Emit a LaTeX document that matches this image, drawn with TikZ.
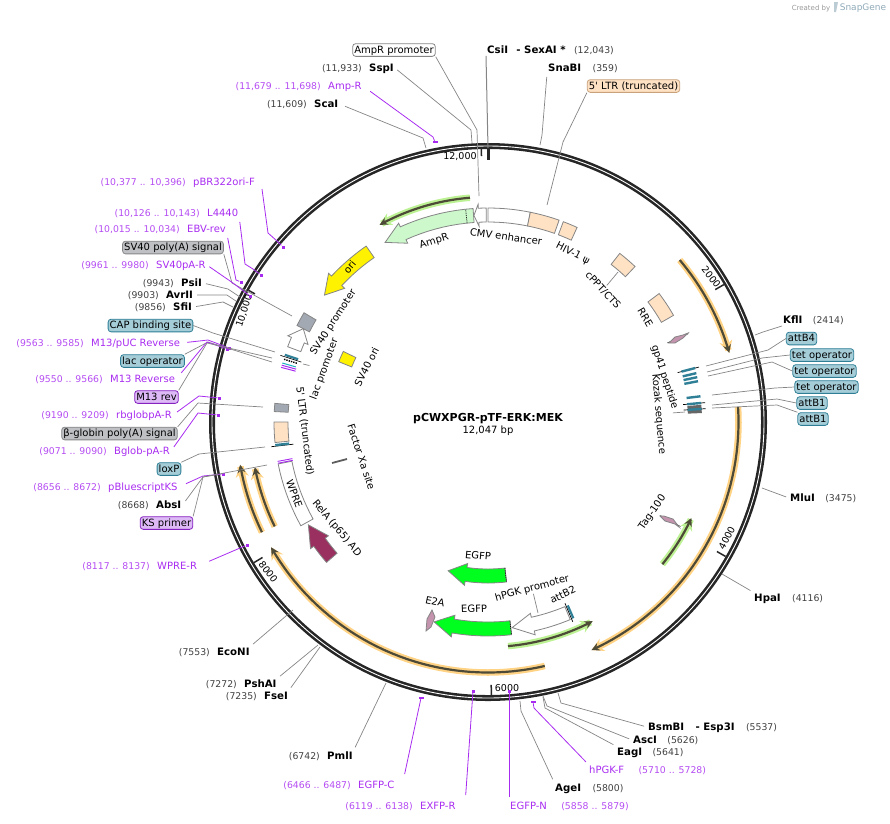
\documentclass[tikz,border=0pt]{standalone}
\usepackage{fontspec}
\setmainfont{DejaVu Sans}
\usetikzlibrary{positioning, arrows.meta}

\definecolor{leadgrey}{HTML}{858585}
\definecolor{primerpurple}{HTML}{A82CF0}
\definecolor{posgrey}{HTML}{404040}
\definecolor{tealfill}{HTML}{A5CDD8}
\definecolor{tealedge}{HTML}{2E7F96}
\definecolor{tealstrip}{HTML}{2F7F96}
\definecolor{greyfill}{HTML}{BEC0C3}
\definecolor{greyfeat}{HTML}{A3A9B3}
\definecolor{lilacfill}{HTML}{DDB9F6}
\definecolor{peachfill}{HTML}{FFE2C4}
\definecolor{peachedge}{HTML}{C9A27C}
\definecolor{ampgreen}{HTML}{CCF8CC}
\definecolor{egfpgreen}{HTML}{00FF1E}
\definecolor{relacrimson}{HTML}{99305F}
\definecolor{tagpink}{HTML}{C493AE}
\definecolor{orfdark}{HTML}{4D4A38}
\definecolor{orforange}{HTML}{FFD284}
\definecolor{orfgreen}{HTML}{BDF294}
\definecolor{stampblue}{HTML}{8FAAB8}

% arc shaped box: [style]{from}{to}{inner radius}{outer radius}
\newcommand{\ringbox}[5][]{%
    \draw [ring, #1] plot [domain=#2:#3, samples=10] ({\x-90}:#5)
        -- plot [domain=#3:#2, samples=10] ({\x-90}:#4) -- cycle;}
% arc shaped arrow: [style]{tail}{neck}{tip}{inner radius}{outer radius}
\newcommand{\ringarrow}[6][]{%
    \draw [ring, #1] plot [domain=#2:#3, samples=10] ({\x-90}:#6)
        -- ({#3-90}:{#6+4}) -- ({#4-90}:{(#5+#6)/2}) -- ({#3-90}:{#5-4})
        -- plot [domain=#3:#2, samples=10] ({\x-90}:#5) -- cycle;}
% radial bar: [style]{angle}{inner radius}{outer radius}
\newcommand{\ringbar}[4][]{%
    \draw [ring, #1] ({#2-90}:#3) -- ({#2-90}:#4);}
% reading frame: {highlight colour}{from}{to}{radius}
\newcommand{\ringframe}[4]{%
    \draw [ring, #1, line width=6.5pt, -{Stealth[length=12pt, width=13pt]}]
        plot [domain=#2:#3, samples=40] ({\x-90}:#4);
    \draw [ring, orfdark, line width=2.2pt, -{Stealth[length=8pt, width=8pt]}]
        plot [domain=#2:#3, samples=40] ({\x-90}:#4);}

\begin{document}
\begin{tikzpicture}
    [
        x=1pt, y=-1pt,
        ring/.style={shift={(488,422)}},
        every node/.style={font=\fontsize{10}{11}\selectfont, inner sep=1pt,
            text height=8pt, text depth=1.5pt},
        enzyme/.style={font=\fontsize{10.2}{11}\selectfont\bfseries, anchor=west},
        enzymepos/.style={font=\fontsize{9.3}{11}\selectfont, text=posgrey},
        primer/.style={text=primerpurple, anchor=west},
        primerpos/.style={font=\fontsize{9.3}{11}\selectfont, text=primerpurple!85},
        tagbox/.style={draw, rounded corners=3pt, inner sep=1.6pt, line width=0.8pt},
        tealbox/.style={tagbox, fill=tealfill, draw=tealedge},
        greybox/.style={tagbox, fill=greyfill, draw=greyfill!70!black},
        lilacbox/.style={tagbox, fill=lilacfill, draw=primerpurple!80!black},
        peachbox/.style={tagbox, fill=peachfill, draw=peachedge},
        whitebox/.style={tagbox, draw=leadgrey},
        leader/.style={draw=leadgrey, line width=0.7pt},
        siteleader/.style={leader, shorten <=3pt},
        primerleader/.style={draw=primerpurple, line width=0.8pt, shorten <=3pt},
        primermark/.style={fill=primerpurple, inner sep=0pt, text height=0pt, text depth=0pt,
            minimum width=3pt, minimum height=3pt},
        primerbar/.style={primermark, minimum width=5pt, minimum height=2pt},
        feature/.style={draw=leadgrey, line width=0.8pt},
        tick/.style={line width=1.5pt, black!85},
        ticklabel/.style={font=\fontsize{9.5}{11}\selectfont}
    ]
        \useasboundingbox (0,0) rectangle (890,823);

        % =========================================================================
        % BACKBONE
        % =========================================================================
        \coordinate (centre) at (488,422);
        \draw [line width=6pt, black!85] (centre) circle (276);
        \draw [line width=0.9pt, white] (centre) circle (276);
        \draw [ring, line width=3pt, black!85] (-90:273) -- (-90:262);
        \draw [ring, tick] (-30.23:273) -- (-30.23:263);
        \draw [ring, tick] (29.5:273) -- (29.5:263);
        \draw [ring, tick] (89.3:273) -- (89.3:263);
        \draw [ring, tick] (149:273) -- (149:263);
        \draw [ring, tick] (208.8:273) -- (208.8:266);
        \draw [ring, tick] (268.6:273) -- (268.6:266);
        \node [ticklabel, rotate=-52] (tick2000) at (711,277) {2000};
        \node [ticklabel, rotate=62] (tick4000) at (727,538) {4000};
        \node [ticklabel] (tick6000) at (507,688) {6000};
        \node [ticklabel, rotate=-53] (tick8000) at (268,572) {8000};
        \node [ticklabel, rotate=72] (tick10000) at (244,311) {10,000};
        \node [ticklabel] (tick12000) at (460,156) {12,000};

        % --- Title ---
        \node [font=\fontsize{11}{12}\selectfont\bfseries] (title) at (488,418) {pCWXPGR-pTF-ERK:MEK};
        \node (size) at (488,430) {12,047 bp};
        % --- Stamp ---
        \node [font=\fontsize{7}{8}\selectfont, text=black!40] (stamp) at (811,7) {Created by};
        \node [font=\fontsize{9}{10}\selectfont, text=stampblue] (snapgene) at (863,7) {SnapGene};
        \draw [fill=stampblue!60, draw=none] (834,2) -- (838,2) -- (836,12) -- (834,12) -- cycle;

        % =========================================================================
        % READING FRAMES
        % =========================================================================
        \ringframe{orfgreen}{355.4}{331.2}{225}
        \ringframe{orforange}{49.8}{74}{251}
        \ringframe{orforange}{86.6}{155.6}{250.5}
        \ringframe{orfgreen}{129.2}{115.3}{225}
        \ringframe{orfgreen}{174.9}{152.3}{225}
        \ringframe{orforange}{166.9}{240}{250.5}
        \ringframe{orforange}{244}{260.2}{251.5}
        \ringframe{orforange}{243.9}{259}{237.5}

        % =========================================================================
        % FEATURES
        % =========================================================================
        % --- Top ---
        \ringarrow[feature, fill=ampgreen]{356}{335.8}{330.2}{200}{214}
        \ringbar[densely dotted, black, line width=0.8pt]{354}{200}{214}
        \ringarrow[feature, fill=white]{359.5}{357.4}{356.1}{200}{214}
        \ringbox[feature, fill=white]{0}{11.4}{200}{214}
        \ringbox[feature, fill=peachfill]{11.4}{19.4}{200}{214}
        \ringbox[feature, fill=peachfill]{20.6}{24.6}{200}{214}
        \ringbox[feature, fill=peachfill]{38}{43.4}{200}{214}
        \ringbox[feature, fill=peachfill]{53.1}{60.1}{200}{214}
        % --- Right ---
        \ringbar[black!70, line width=0.7pt]{66.2}{196}{219}
        \draw [feature, fill=tagpink] (669,343) -- (675,337) -- (683,335) -- (688,333)
            -- (683,338) -- (675,343) -- cycle;
        \ringbar[black, line width=0.7pt]{75.4}{196}{218}
        \ringbar[tealstrip, line width=2.4pt]{75.4}{200}{214}
        \ringbar[tealstrip, line width=2.4pt]{76.8}{200}{214}
        \ringbar[tealstrip, line width=2.4pt]{77.9}{200}{214}
        \ringbar[tealstrip, line width=2.4pt]{79}{200}{214}
        \ringbar[tealstrip, line width=2.4pt]{83.1}{200}{214}
        \ringbox[draw=none, fill=black!60]{85.4}{87.6}{200}{214}
        \ringbar[black, line width=0.7pt]{84.9}{196}{218}
        \ringbar[black, line width=0.7pt]{86.5}{196}{218}
        \ringbar[tealstrip, line width=2.4pt]{84.9}{200}{214}
        \ringbar[tealstrip, line width=2.4pt]{86.5}{200}{214}
        \ringbar[black!70, line width=0.7pt]{118.5}{196}{219}
        \draw [feature, fill=tagpink] (660,516) -- (664,516) -- (673,519) -- (679,527)
            -- (675,524) -- (665,521) -- cycle;
        % --- Bottom ---
        \ringarrow[feature, fill=egfpgreen]{173.4}{188.2}{195}{147}{161}
        \ringbar[densely dotted, black, line width=0.8pt]{173.4}{147}{161}
        \ringarrow[feature, fill=egfpgreen]{173.7}{189.7}{195.1}{200}{214}
        \ringbar[densely dotted, black, line width=0.8pt]{173.7}{200}{214}
        \ringarrow[feature, fill=white]{157.4}{167.5}{173.3}{200}{214}
        \ringbar[black, line width=0.7pt]{157}{197}{217}
        \ringbar[tealstrip, line width=2.2pt]{156.5}{200}{214}
        \draw [feature, fill=tagpink] (432,610) -- (435,617) -- (431,627) -- (426,631)
            -- (427,619) -- cycle;
        % --- Left ---
        \ringarrow[feature, fill=relacrimson]{229}{234.5}{240.2}{200}{214}
        \ringbox[feature, fill=white]{241}{258.7}{200}{214}
        \ringbar[primerpurple, line width=0.9pt]{258.9}{199}{214}
        \ringbar[primerpurple, line width=0.9pt]{259.4}{199}{214}
        \draw [leadgrey!70!black, line width=1.8pt] (332,463) -- (347,459);
        \ringbar[black, line width=0.7pt]{263.5}{196}{218}
        \ringbar[tealstrip, line width=2.4pt]{263.8}{200}{214}
        \ringbox[feature, fill=peachfill]{264.5}{270}{200}{214}
        \ringbox[feature, fill=greyfeat]{272.8}{275}{200}{214}
        \ringbar[tealstrip, line width=2.2pt]{288.3}{200}{214}
        \ringbar[black, line width=0.6pt]{287.8}{196}{218}
        \ringbar[black, densely dotted, line width=1.4pt]{287.1}{200}{214}
        \ringbar[tealstrip!60!cyan, line width=1pt]{286}{200}{214}
        \ringbar[primerpurple, line width=1pt]{285.4}{199}{214}
        \ringbar[primerpurple, line width=1pt]{284.8}{199}{214}
        \ringarrow[feature, fill=white]{290.6}{293.3}{296.8}{200}{214}
        \ringbox[feature, fill=greyfeat]{296.8}{300.7}{200}{214}
        \ringbox[feature, fill=yellow]{292}{296}{147}{161}
        \ringarrow[feature, fill=yellow]{325.3}{313}{307.8}{200}{214}

        % --- Names along the features ---
        \node [rotate=17] (ampr name) at (434,241) {AmpR};
        \node [rotate=-8] (cmv name) at (506,237) {CMV enhancer};
        \node [rotate=-27] (hiv name) at (573,253) {HIV-1 ψ};
        \node [rotate=-47] (cppt name) at (603,290) {cPPT/CTS};
        \node [rotate=-60] (rre name) at (645,318) {RRE};
        \node [rotate=-72] (gp41 name) at (665,377) {gp41 peptide};
        \node [rotate=-85] (kozak name) at (659,414) {Kozak sequence};
        \node [rotate=55] (tag name) at (652,512) {Tag-100};
        \node [rotate=-5] (egfp name) at (478,556) {EGFP};
        \node [rotate=2] (egfpb name) at (474,609) {EGFP};
        \node [rotate=-12] (e2a name) at (435,602) {E2A};
        \node [rotate=15] (hpgk name) at (532,588) {hPGK promoter};
        \node [rotate=25] (attb2 name) at (563,595) {attB2};
        \node [rotate=-70] (wpre name) at (294,494) {WPRE};
        \node [rotate=-50] (rela name) at (337,528) {RelA (p65) AD};
        \node [rotate=-72] (xa name) at (361,457) {Factor Xa site};
        \node [rotate=-83] (ltr name) at (305,431) {5\textquotesingle{} LTR (truncated)};
        \node [rotate=70] (lacp name) at (324,369) {lac promoter};
        \node [rotate=57] (svp name) at (333,322) {SV40 promoter};
        \node [rotate=63] (svo name) at (367,367) {SV40 ori};
        \node [rotate=50] (ori name) at (350,267) {ori};
        \coordinate (cppt end) at (618,272);
        \draw [leader] (cppt name) -- (cppt end);
        \coordinate (hpgk end) at (538,613);
        \draw [leader] (hpgk name) -- (hpgk end);
        \coordinate (kozak end) at (685,412);
        \draw [leader, shorten <=8pt] (kozak name.north) -- (kozak end);
        \coordinate (lacp end) at (303,364);
        \draw [leader, shorten <=9pt] (lacp name) -- (lacp end);

        % =========================================================================
        % LABELS
        % =========================================================================
        % --- Top ---
        \node [whitebox] (ampprom) at (394,50) {AmpR promoter};
        \node [enzyme] (csii) at (486,50) {CsiI};
        \node [enzyme, right=6pt of csii] (sexai) {- SexAI *};
        \node [enzymepos, right=6pt of sexai] (sexai pos) {(12,043)};
        \node [enzyme] (sspi) at (368,68) {SspI};
        \node [enzymepos, left=5pt of sspi] (sspi pos) {(11,933)};
        \node [primer] (ampr) at (327,86) {Amp-R};
        \node [primerpos, left=5pt of ampr] (ampr pos) {(11,679 .. 11,698)};
        \node [enzyme] (scai) at (313,104) {ScaI};
        \node [enzymepos, left=5pt of scai] (scai pos) {(11,609)};
        \node [enzyme] (snabi) at (547,68) {SnaBI};
        \node [enzymepos, right=9pt of snabi] (snabi pos) {(359)};
        \node [peachbox] (ltr top) at (633.5,86) {5\textquotesingle{} LTR (truncated)};
        % --- Left ---
        \node [primer] (pbr) at (192,182) {pBR322ori-F};
        \node [primerpos, left=5pt of pbr] (pbr pos) {(10,377 .. 10,396)};
        \node [primer] (l4440) at (206,213) {L4440};
        \node [primerpos, left=5pt of l4440] (l4440 pos) {(10,126 .. 10,143)};
        \node [primer] (ebv) at (186,229) {EBV-rev};
        \node [primerpos, left=5pt of ebv] (ebv pos) {(10,015 .. 10,034)};
        \node [greybox] (svpoly) at (173,247.5) {SV40 poly(A) signal};
        \node [primer] (svpa) at (155,265) {SV40pA-R};
        \node [primerpos, left=5pt of svpa] (svpa pos) {(9961 .. 9980)};
        \node [enzyme] (psii) at (180,283) {PsiI};
        \node [enzymepos, left=5pt of psii] (psii pos) {(9943)};
        \node [enzyme] (avrii) at (165,295) {AvrII};
        \node [enzymepos, left=5pt of avrii] (avrii pos) {(9903)};
        \node [enzyme] (sfii) at (172,307) {SfiI};
        \node [enzymepos, left=5pt of sfii] (sfii pos) {(9856)};
        \node [tealbox] (cap) at (150.5,325.5) {CAP binding site};
        \node [primer] (m13puc) at (90,343) {M13/pUC Reverse};
        \node [primerpos, left=5pt of m13puc] (m13puc pos) {(9563 .. 9585)};
        \node [tealbox] (lacop) at (152.5,361) {lac operator};
        \node [primer] (m13r) at (109,379) {M13 Reverse};
        \node [primerpos, left=5pt of m13r] (m13r pos) {(9550 .. 9566)};
        \node [lilacbox] (m13box) at (156.5,397) {M13 rev};
        \node [primer] (rbglob) at (115,415) {rbglobpA-R};
        \node [primerpos, left=5pt of rbglob] (rbglob pos) {(9190 .. 9209)};
        \node [greybox] (bglobin) at (119.5,433.5) {β-globin poly(A) signal};
        \node [primer] (bglob) at (113,451) {Bglob-pA-R};
        \node [primerpos, left=5pt of bglob] (bglob pos) {(9071 .. 9090)};
        \node [tealbox] (loxp) at (169,469) {loxP};
        \node [primer] (pks) at (107,487) {pBluescriptKS};
        \node [primerpos, left=5pt of pks] (pks pos) {(8656 .. 8672)};
        \node [enzyme] (absi) at (155,505) {AbsI};
        \node [enzymepos, left=5pt of absi] (absi pos) {(8668)};
        \node [lilacbox] (ksbox) at (166.5,523) {KS primer};
        \node [primer] (wprer) at (156,566) {WPRE-R};
        \node [primerpos, left=5pt of wprer] (wprer pos) {(8117 .. 8137)};
        % --- Right ---
        \node [enzyme] (kfli) at (782,320) {KflI};
        \node [enzymepos, right=8pt of kfli] (kfli pos) {(2414)};
        \node [tealbox] (attb4) at (801.5,338.5) {attB4};
        \node [tealbox] (tet one) at (822,355) {tet operator};
        \node [tealbox] (tet two) at (824.5,371) {tet operator};
        \node [tealbox] (tet three) at (826.5,387) {tet operator};
        \node [tealbox] (attb one) at (812,403) {attB1};
        \node [tealbox] (attb two) at (813,419) {attB1};
        \node [enzyme] (mlui) at (789,498) {MluI};
        \node [enzymepos, right=8pt of mlui] (mlui pos) {(3475)};
        \node [enzyme] (hpai) at (753,598) {HpaI};
        \node [enzymepos, right=9pt of hpai] (hpai pos) {(4116)};
        % --- Bottom ---
        \node [enzyme] (bsmbi) at (647,727) {BsmBI};
        \node [enzyme, right=9pt of bsmbi] (esp) {- Esp3I};
        \node [enzymepos, right=9pt of esp] (esp pos) {(5537)};
        \node [enzyme] (asci) at (632,740) {AscI};
        \node [enzymepos, right=8pt of asci] (asci pos) {(5626)};
        \node [enzyme] (eagi) at (616,752) {EagI};
        \node [enzymepos, right=8pt of eagi] (eagi pos) {(5641)};
        \node [primer] (hpgkf) at (588,770) {hPGK-F};
        \node [primerpos, right=12pt of hpgkf] (hpgkf pos) {(5710 .. 5728)};
        \node [enzyme] (agei) at (554,788) {AgeI};
        \node [enzymepos, right=9pt of agei] (agei pos) {(5800)};
        \node [primer] (egfpn) at (509,806) {EGFP-N};
        \node [primerpos, right=12pt of egfpn] (egfpn pos) {(5858 .. 5879)};
        \node [primer] (exfpr) at (419,806) {EXFP-R};
        \node [primerpos, left=5pt of exfpr] (exfpr pos) {(6119 .. 6138)};
        \node [primer] (egfpc) at (357,785) {EGFP-C};
        \node [primerpos, left=5pt of egfpc] (egfpc pos) {(6466 .. 6487)};
        \node [enzyme] (pmli) at (326,756) {PmlI};
        \node [enzymepos, left=5pt of pmli] (pmli pos) {(6742)};
        \node [enzyme] (fsei) at (263,696) {FseI};
        \node [enzymepos, left=5pt of fsei] (fsei pos) {(7235)};
        \node [enzyme] (pshai) at (243,684) {PshAI};
        \node [enzymepos, left=5pt of pshai] (pshai pos) {(7272)};
        \node [enzyme] (econi) at (216,652) {EcoNI};
        \node [enzymepos, left=5pt of econi] (econi pos) {(7553)};

        % --- Primer marks ---
        \node [primerbar] (ampr mark) at (435,142) {};
        \node [primermark] (pbr mark) at (283,247) {};
        \node [primermark] (l4440 mark) at (261,275) {};
        \node [primermark] (ebv mark) at (241,282) {};
        \node [primermark] (svpa mark) at (250,296) {};
        \node [primermark] (m13puc mark) at (229,348) {};
        \node [primermark] (m13r mark) at (227,349) {};
        \node [primermark] (rbglob mark) at (219,398) {};
        \node [primermark] (bglob mark) at (218,415) {};
        \node [primermark] (pks mark) at (223,474) {};
        \node [primermark] (wprer mark) at (247,545) {};
        \node [primerbar] (hpgkf mark) at (533,702) {};
        \node [primermark] (egfpn mark) at (509,691) {};
        \node [primermark] (exfpr mark) at (473,691) {};
        \node [primerbar] (egfpc mark) at (421,698) {};

        % =========================================================================
        % LEADERS
        % =========================================================================
        % --- Top ---
        \coordinate (ampprom bend) at (477,130); \coordinate (ampprom end) at (479,196);
        \draw [leader] (ampprom.south east) -- (ampprom bend) -- (ampprom end);
        \coordinate (csii end) at (488,148);
        \draw [leader, line width=1pt] (csii.south west) -- (csii end);
        \coordinate (sspi bend) at (471,130); \coordinate (sspi end) at (472,143);
        \draw [siteleader] (sspi.east) -- (sspi bend) -- (sspi end);
        \coordinate (ampr bend) at (433,137);
        \draw [primerleader, shorten <=9pt] (ampr.east) -- (ampr bend) -- (ampr mark);
        \coordinate (scai bend) at (423,138); \coordinate (scai end) at (426,148);
        \draw [siteleader, shorten <=6pt] (scai.east) -- (scai bend) -- (scai end);
        \coordinate (snabi bend) at (542,135); \coordinate (snabi end) at (540,145);
        \draw [siteleader] (snabi.south west) -- (snabi bend) -- (snabi end);
        \coordinate (ltr bend) at (563,142); \coordinate (ltr end) at (547,205);
        \draw [leader] (ltr top.south west) -- (ltr bend) -- (ltr end);
        % --- Left ---
        \coordinate (pbr a) at (262,189); \coordinate (pbr b) at (268,233); \coordinate (pbr c) at (277,241);
        \draw [primerleader, shorten <=0pt] (pbr a) -- (pbr b) -- (pbr c) -- (pbr mark);
        \coordinate (l4440 b) at (245,264); \coordinate (l4440 c) at (253,269);
        \draw [primerleader] (l4440.south east) -- (l4440 b) -- (l4440 c) -- (l4440 mark);
        \coordinate (ebv b) at (236,280);
        \draw [primerleader] (ebv.south east) -- (ebv b) -- (ebv mark);
        \coordinate (svpoly bend) at (232,283); \coordinate (svpoly end) at (292,316);
        \draw [leader] (svpoly.south east) -- (svpoly bend) -- (svpoly end);
        \coordinate (svpa bend) at (233,283);
        \draw [primerleader] (svpa.east) -- (svpa bend) -- (svpa mark);
        \coordinate (psii bend) at (228,289); \coordinate (psii end) at (240,297);
        \draw [siteleader] (psii.east) -- (psii bend) -- (psii end);
        \coordinate (avrii bend) at (227,295); \coordinate (avrii end) at (236,301);
        \draw [siteleader] (avrii.east) -- (avrii bend) -- (avrii end);
        \coordinate (sfii bend) at (223,302); \coordinate (sfii end) at (233,307);
        \draw [siteleader] (sfii.east) -- (sfii bend) -- (sfii end);
        \coordinate (cap bend) at (213,333); \coordinate (cap end) at (275,352);
        \draw [leader] (cap.east) -- (cap bend) -- (cap end);
        \coordinate (m13puc bend) at (208,340);
        \draw [primerleader, shorten <=6pt] (m13puc.east) -- (m13puc bend) -- (m13puc mark);
        \coordinate (lacop bend) at (208,342); \coordinate (lacop end) at (272,362);
        \draw [leader] (lacop.north east) -- (lacop bend) -- (lacop end);
        \coordinate (m13r bend) at (207,342);
        \draw [primerleader, shorten <=8pt] (m13r.east) -- (m13r bend) -- (m13r mark);
        \coordinate (m13box bend) at (207,343); \coordinate (m13box end) at (272,358);
        \draw [leader] (m13box.north east) -- (m13box bend) -- (m13box end);
        \coordinate (rbglob bend) at (199,396);
        \draw [primerleader, shorten <=5pt] (rbglob.east) -- (rbglob bend) -- (rbglob mark);
        \coordinate (bglobin bend) at (198,403); \coordinate (bglobin end) at (263,407);
        \draw [leader] (bglobin.north east) -- (bglobin bend) -- (bglobin end);
        \coordinate (bglob bend) at (198,413);
        \draw [primerleader, shorten <=5pt] (bglob.east) -- (bglob bend) -- (bglob mark);
        \coordinate (loxp bend) at (199,454); \coordinate (loxp end) at (265,447);
        \draw [leader] (loxp.north east) -- (loxp bend) -- (loxp end);
        \coordinate (pks bend) at (203,476);
        \draw [primerleader, shorten <=8pt] (pks.east) -- (pks bend) -- (pks mark);
        \coordinate (absi bend) at (203,477); \coordinate (absi end) at (215,475);
        \draw [siteleader, shorten <=5pt] (absi.east) -- (absi bend) -- (absi end);
        \coordinate (ksbox bend) at (203,477); \coordinate (ksbox end) at (267,465);
        \draw [leader] (ksbox.north east) -- (ksbox bend) -- (ksbox end);
        \draw [primerleader, shorten <=12pt] (wprer.east) -- (wprer mark);
        % --- Right ---
        \coordinate (kfli bend) at (763,332); \coordinate (kfli end) at (755,335);
        \draw [leader] (kfli.south west) -- (kfli bend) -- (kfli end);
        \coordinate (attb4 bend) at (768,350); \coordinate (attb4 end) at (706,366);
        \draw [leader] (attb4.west) -- (attb4 bend) -- (attb4 end);
        \coordinate (tet one bend) at (762,358); \coordinate (tet one end) at (707,372);
        \draw [leader] (tet one.west) -- (tet one bend) -- (tet one end);
        \coordinate (tet two bend) at (772,362); \coordinate (tet two end) at (708,376);
        \draw [leader] (tet two.west) -- (tet two bend) -- (tet two end);
        \coordinate (tet three bend) at (775,388); \coordinate (tet three end) at (712,395);
        \draw [leader] (tet three.west) -- (tet three bend) -- (tet three end);
        \coordinate (attb one bend) at (777,399); \coordinate (attb one end) at (712,405);
        \draw [leader] (attb one.west) -- (attb one bend) -- (attb one end);
        \coordinate (attb two bend) at (777,405); \coordinate (attb two end) at (712,408);
        \draw [leader] (attb two.north west) -- (attb two bend) -- (attb two end);
        \coordinate (mlui end) at (762,488);
        \draw [siteleader] (mlui.west) -- (mlui end);
        \coordinate (hpai end) at (722,574);
        \draw [siteleader] (hpai.north west) -- (hpai end);
        % --- Bottom ---
        \coordinate (bsmbi bend) at (561,703); \coordinate (bsmbi end) at (558,693);
        \draw [siteleader] (bsmbi.west) -- (bsmbi bend) -- (bsmbi end);
        \coordinate (asci bend) at (547,706); \coordinate (asci end) at (543,696);
        \draw [siteleader] (asci.west) -- (asci bend) -- (asci end);
        \coordinate (eagi bend) at (545,708); \coordinate (eagi end) at (543,697);
        \draw [siteleader] (eagi.north west) -- (eagi bend) -- (eagi end);
        \coordinate (hpgkf bend) at (534,708);
        \draw [primerleader] (hpgkf.north west) -- (hpgkf bend) -- (hpgkf mark);
        \coordinate (agei bend) at (521,711); \coordinate (agei end) at (520,701);
        \draw [siteleader] (agei.north west) -- (agei bend) -- (agei end);
        \draw [primerleader] (egfpn.north west) -- (egfpn mark);
        \draw [primerleader, shorten <=0pt] ([xshift=9pt, yshift=5pt]exfpr.north east) -- (exfpr mark);
        \draw [primerleader, shorten <=0pt] ([xshift=9pt, yshift=5pt]egfpc.north east) -- (egfpc mark);
        \coordinate (pmli end) at (386,683);
        \draw [siteleader] (pmli.north east) -- (pmli end);
        \coordinate (fsei end) at (320,647);
        \draw [siteleader] (fsei.north east) -- (fsei end);
        \coordinate (pshai end) at (318,645);
        \draw [siteleader] (pshai.north east) -- (pshai end);
        \coordinate (econi end) at (293,610);
        \draw [siteleader] (econi.north east) -- (econi end);
    \end{tikzpicture}
\end{document}
